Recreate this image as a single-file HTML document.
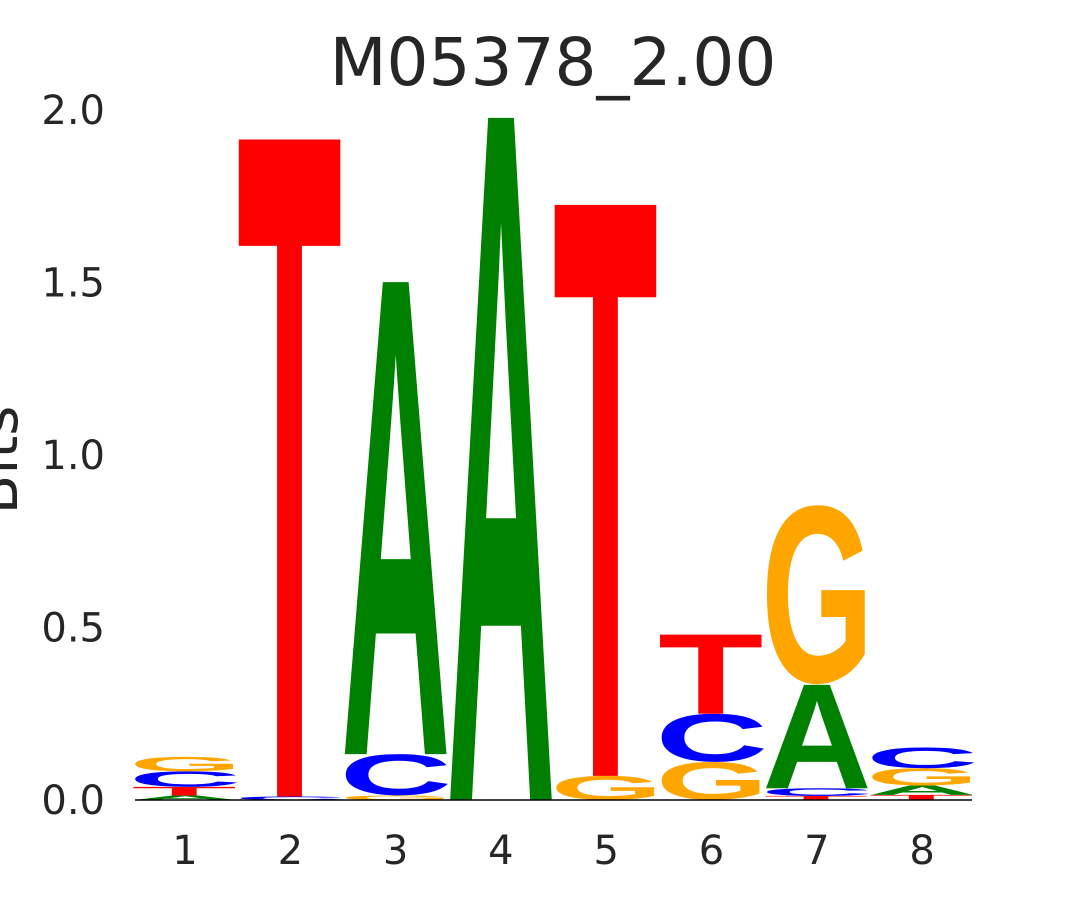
<!DOCTYPE html>
<html><head><meta charset="utf-8"><style>
html,body{margin:0;padding:0;background:#fff;width:1080px;height:900px;overflow:hidden;}
svg{display:block;overflow:hidden;}
</style></head><body>
<svg id="chart" width="1080" height="900" viewBox="0 0 1080 900" font-family="'DejaVu Sans', 'Liberation Sans', sans-serif">
  <rect width="1080" height="900" fill="#fff"/>
  <text x="553" y="85" font-size="66" text-anchor="middle" fill="#262626">M05378_2.00</text>
  <text transform="translate(17,460) rotate(-90)" font-size="58" text-anchor="middle" fill="#262626">Bits</text>
  <g id="yticks"></g>
  <g id="xticks"></g>
  <g id="letters"></g>
  <line x1="135" y1="800" x2="972" y2="800" stroke="#000" stroke-width="1.5"/>
</svg>
<script>
const positions = [1,2,3,4,5,6,7,8];
// letters stacked bottom -> top for each position
const stackLetters = [
  ["A","T","C","G"],
  ["C","T"],
  ["G","C","A"],
  ["A"],
  ["G","T"],
  ["G","C","T"],
  ["T","C","A","G"],
  ["T","A","G","C"]
];
const stackHeights = [
  [0.013,0.025,0.045,0.042],
  [0.01,1.91],
  [0.013,0.12,1.37],
  [1.98],
  [0.07,1.66],
  [0.11,0.14,0.23],
  [0.012,0.022,0.30,0.52],
  [0.015,0.027,0.05,0.06]
];
const yTickValues = [0,0.5,1,1.5,2];
const yTickLabels = ["0.0","0.5","1.0","1.5","2.0"];

const NS = "http://www.w3.org/2000/svg";
const yScale = v => 800 - v * 345;
const xScale = p => 185 + (p - 1) * 105.3;
const colors = {A:"#008000",C:"#0000ff",G:"#ffa500",T:"#ff0000"};
const inkW = {A:0.66,C:0.64,G:0.69,T:0.58};
const lsb = {A:0.03,C:0.04,G:0.04,T:0.02};
const capH = {A:0.689,C:0.71,G:0.71,T:0.69};
const base = {A:0,C:0.012,G:0.012,T:0};

const yg = document.getElementById('yticks');
yTickValues.forEach((v,i)=>{
  const t = document.createElementNS(NS,'text');
  
  
  t.setAttribute('x',105); t.setAttribute('y',yScale(v)+14);
  t.setAttribute('font-size','40'); t.setAttribute('text-anchor','end');
  t.setAttribute('fill','#262626');
  t.textContent = yTickLabels[i];
  yg.appendChild(t);
});
const xg = document.getElementById('xticks');
positions.forEach(p=>{
  const t = document.createElementNS(NS,'text');
  
  
  t.setAttribute('x',xScale(p)); t.setAttribute('y',864);
  t.setAttribute('font-size','40'); t.setAttribute('text-anchor','middle');
  t.setAttribute('fill','#262626');
  t.textContent = String(p);
  xg.appendChild(t);
});
const lg = document.getElementById('letters');
const W = 100;
positions.forEach((p,i)=>{
  let cum = 0;
  stackLetters[i].forEach((L,j)=>{
    const h = stackHeights[i][j];
    const yb = yScale(cum), yt = yScale(cum+h);
    cum += h;
    const ph = yb - yt;
    const sx = W / inkW[L];
    const sy = ph / capH[L];
    const x0 = xScale(p) - W/2 - lsb[L]*sx;
    const t = document.createElementNS(NS,'text');
    
    
    t.setAttribute('x',0); t.setAttribute('y',0);
    t.setAttribute('font-size','1'); t.setAttribute('font-weight','bold');
    t.setAttribute('font-family',"'Liberation Sans', sans-serif");
    t.setAttribute('fill',colors[L]);
    t.setAttribute('transform','translate('+x0+','+(yb - base[L]*sy)+') scale('+sx+','+sy+')');
    t.textContent = L;
    lg.appendChild(t);
  });
});
</script>
</body></html>
